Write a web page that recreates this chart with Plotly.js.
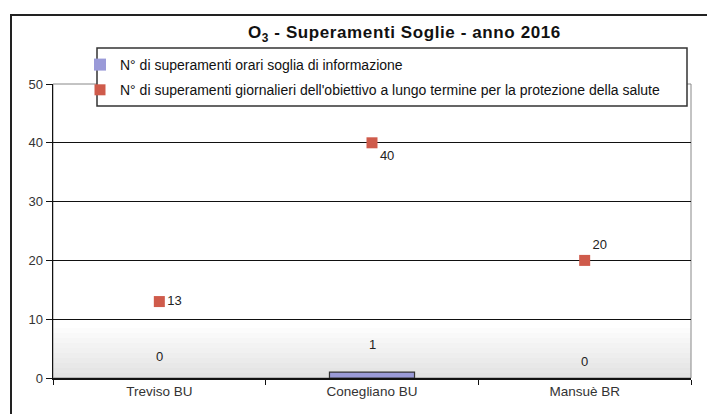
<!DOCTYPE html>
<html>
<head>
<meta charset="utf-8">
<script src="https://cdn.plot.ly/plotly-3.0.1.min.js"></script>
<style>
html,body{margin:0;padding:0;background:#fff;width:707px;height:414px;overflow:hidden;}
#frame{position:absolute;left:10px;top:14px;width:720px;height:430px;border:2px solid #222;box-sizing:border-box;}
#chart{position:absolute;left:0;top:0;width:707px;height:414px;}
#chart .gtitle{letter-spacing:0.6px;}
</style>
</head>
<body>
<div id="frame"></div>
<div id="chart"></div>
<script>
const categories = ["Treviso BU", "Conegliano BU", "Mansuè BR"];
const orariInfo = [0, 1, 0];
const giornalieriLT = [13, 40, 20];
const seriesNames = [
  "N° di superamenti orari soglia di informazione",
  "N° di superamenti giornalieri dell'obiettivo a lungo termine per la protezione della salute"
];
const yTicks = [0, 10, 20, 30, 40, 50];

const fontFam = "Liberation Sans, Arial, sans-serif";

const barTrace = {
  type: "bar",
  name: seriesNames[0],
  x: categories,
  y: orariInfo,
  width: 0.4,
  marker: {color: "#9a9ad8", line: {color: "#333", width: orariInfo.map(v => v > 0 ? 1.2 : 0)}},
  legendgroup: "a",
  hoverinfo: "x+y"
};

const scatterTrace = {
  type: "scatter",
  mode: "markers+text",
  name: seriesNames[1],
  x: categories,
  y: giornalieriLT,
  text: giornalieriLT.map(String),
  textposition: ["middle right", "bottom right", "top right"],
  textfont: {family: fontFam, size: 13, color: "#222"},
  marker: {symbol: "square", size: 11, color: "#cf5b4b"},
  legendgroup: "b",
  cliponaxis: false
};

// gradient floor
const shapes = [];
const bands = 10;
for (let i = 0; i < bands; i++) {
  const g = Math.round(226 + (255 - 226) * (i / bands));
  shapes.push({
    type: "rect", xref: "paper", yref: "y", layer: "below",
    x0: 0, x1: 1, y0: i * 0.85, y1: (i + 1) * 0.85,
    line: {width: 0}, fillcolor: `rgb(${g},${g},${g})`
  });
}
// plot area border (gray)
shapes.push({type: "rect", xref: "paper", yref: "paper", layer: "below",
  x0: 0, x1: 1, y0: 0, y1: 1, line: {color: "#888", width: 1}});
// legend box
shapes.push({type: "rect", xref: "paper", yref: "paper", layer: "above",
  x0: (97 - 53) / 638, x1: (687 - 53) / 638, y0: (378 - 106) / 294, y1: (378 - 48) / 294,
  line: {color: "#333", width: 1.5}, fillcolor: "#fff"});

const annotations = categories.map((c, i) => ({
  x: c, y: orariInfo[i], xref: "x", yref: "y",
  text: String(orariInfo[i]), showarrow: false,
  yanchor: "bottom", yshift: [12, 18, 7][i],
  font: {family: fontFam, size: 13, color: "#222"}
}));

const layout = {
  width: 707, height: 414,
  margin: {l: 53, r: 16, t: 84, b: 36},
  paper_bgcolor: "rgba(0,0,0,0)",
  plot_bgcolor: "rgba(0,0,0,0)",
  title: {
    text: "<b>O<sub>3</sub> - Superamenti Soglie - anno 2016</b>",
    x: 0.572, xanchor: "center", y: 0.922, yanchor: "middle",
    font: {family: fontFam, size: 17, color: "#111"}
  },
  xaxis: {
    type: "category", range: [-0.5, 2.5],
    showline: true, linecolor: "#111", linewidth: 1.5,
    ticks: "outside", tickson: "boundaries", ticklen: 5, tickcolor: "#111",
    tickfont: {family: fontFam, size: 13.5, color: "#333"},
    showgrid: false, zeroline: false, fixedrange: true
  },
  yaxis: {
    range: [0, 50], tickvals: yTicks,
    showline: true, linecolor: "#111", linewidth: 1.5,
    ticks: "outside", ticklen: 6, tickcolor: "#111",
    tickfont: {family: fontFam, size: 13, color: "#333"},
    showgrid: true, gridcolor: "#111", gridwidth: 1,
    zeroline: false, fixedrange: true
  },
  showlegend: true,
  legend: {
    x: (80 - 53) / 638, xanchor: "left",
    y: (378 - 49) / 294, yanchor: "top",
    bgcolor: "rgba(0,0,0,0)", borderwidth: 0,
    font: {family: fontFam, size: 14, color: "#111"},
    itemwidth: 30, traceorder: "grouped", tracegroupgap: 4
  },
  shapes: shapes,
  annotations: annotations,
  bargap: 0.6
};

Plotly.newPlot("chart", [barTrace, scatterTrace], layout, {displayModeBar: false, staticPlot: true});
</script>
</body>
</html>
